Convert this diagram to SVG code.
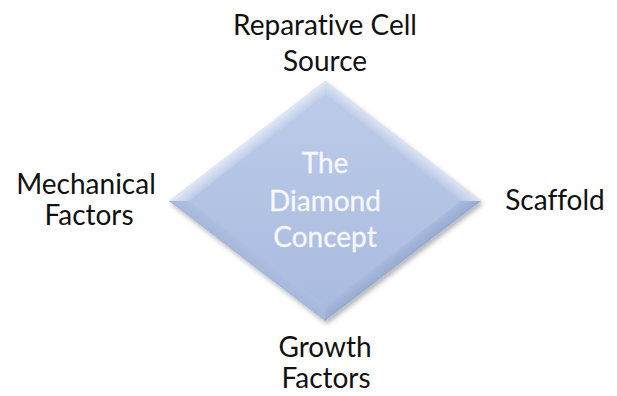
<svg xmlns="http://www.w3.org/2000/svg" width="617" height="396" viewBox="0 0 617 396">
  <defs>
    <style>
      text { font-variant-ligatures: none; }
      .lbl { font-family: Lato, "Open Sans", "Liberation Sans", sans-serif; font-size: 28px; fill: #111111; text-anchor: middle; }
      .core { font-family: Lato, "Open Sans", "Liberation Sans", sans-serif; font-size: 28px; fill: #f6f8fd; stroke: #f6f8fd; stroke-width: 0.3; text-anchor: middle; }
    </style>
    <filter id="shadow" x="-10%" y="-10%" width="125%" height="125%">
      <feDropShadow dx="2" dy="3" stdDeviation="2.5" flood-color="#000000" flood-opacity="0.3"/>
    </filter>
    <linearGradient id="face" x1="0" y1="0" x2="0" y2="1">
      <stop offset="0" stop-color="#bdcbe9"/>
      <stop offset="1" stop-color="#a9bbdf"/>
    </linearGradient>
    <!-- bevel facets: light outer rim fading into the face -->
    <linearGradient id="bevTL" gradientUnits="userSpaceOnUse" x1="247" y1="141" x2="254.3" y2="150.5">
      <stop offset="0" stop-color="#e2e9f6"/>
      <stop offset="1" stop-color="#bdcbe8"/>
    </linearGradient>
    <linearGradient id="bevTR" gradientUnits="userSpaceOnUse" x1="403" y1="141" x2="395.7" y2="150.5">
      <stop offset="0" stop-color="#dbe4f3"/>
      <stop offset="1" stop-color="#b9c8e6"/>
    </linearGradient>
    <linearGradient id="bevBR" gradientUnits="userSpaceOnUse" x1="403" y1="261" x2="395.7" y2="251.5">
      <stop offset="0" stop-color="#97abd0"/>
      <stop offset="1" stop-color="#a8badd"/>
    </linearGradient>
    <linearGradient id="bevBL" gradientUnits="userSpaceOnUse" x1="247" y1="261" x2="254.3" y2="251.5">
      <stop offset="0" stop-color="#a5b8db"/>
      <stop offset="1" stop-color="#adbedf"/>
    </linearGradient>
  </defs>

  <rect width="617" height="396" fill="#ffffff"/>

  <g id="diamond">
    <polygon points="325,81 481,201 325,321 169,201" fill="#b0c1e1" filter="url(#shadow)"/>
    <polygon points="325,96 461,201 325,306 189,201" fill="url(#face)"/>
    <polygon points="169,201 325,81 325,96 189,201" fill="url(#bevTL)"/>
    <polygon points="325,81 481,201 461,201 325,96" fill="url(#bevTR)"/>
    <polygon points="481,201 325,321 325,306 461,201" fill="url(#bevBR)"/>
    <polygon points="325,321 169,201 189,201 325,306" fill="url(#bevBL)"/>
    <text class="core" x="325" y="173">The</text>
    <text class="core" x="325" y="211">Diamond</text>
    <text class="core" x="325" y="247">Concept</text>
  </g>

  <g id="cell-source">
    <text class="lbl" x="325" y="35">Reparative Cell</text>
    <text class="lbl" x="325" y="71">Source</text>
  </g>

  <g id="mechanical-factors">
    <text class="lbl" x="86" y="194">Mechanical</text>
    <text class="lbl" x="89" y="225">Factors</text>
  </g>

  <g id="scaffold">
    <text class="lbl" x="555" y="210">Scaffold</text>
  </g>

  <g id="growth-factors">
    <text class="lbl" x="325" y="357">Growth</text>
    <text class="lbl" x="326" y="388">Factors</text>
  </g>

  <g id="connectors"></g>
</svg>
